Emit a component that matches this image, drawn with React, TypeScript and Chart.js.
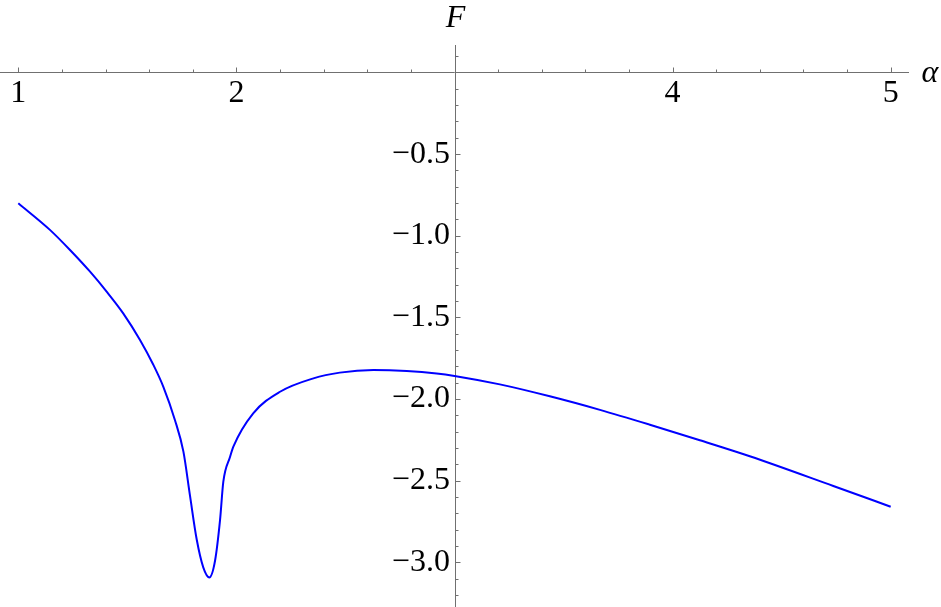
import React, { useEffect, useRef } from "react";
import { Chart, registerables } from "chart.js";

Chart.register(...registerables);

// Curve samples (alpha, F)
const alphaValues = [
  1.0, 1.145, 1.237, 1.329, 1.405, 1.481, 1.558, 1.619, 1.665, 1.718, 1.757,
  1.787, 1.818, 1.848, 1.876, 1.902, 1.925, 1.94, 1.971, 1.986, 2.077, 2.2,
  2.353, 2.474, 2.628, 2.781, 2.918, 3.0, 3.208, 3.437, 3.667, 3.896, 4.125,
  4.354, 4.737, 5.0,
];
const fValues = [
  -0.801, -0.964, -1.087, -1.22, -1.342, -1.475, -1.638, -1.79, -1.925,
  -2.128, -2.322, -2.59, -2.86, -3.03, -3.092, -2.99, -2.74, -2.506, -2.353,
  -2.291, -2.087, -1.955, -1.873, -1.838, -1.822, -1.828, -1.843, -1.858,
  -1.91, -1.983, -2.066, -2.157, -2.252, -2.35, -2.532, -2.659,
];

const xTickLabels = [1, 2, 4, 5];
const yTickLabels = [-0.5, -1.0, -1.5, -2.0, -2.5, -3.0];
const xAxisTitle = "α";
const yAxisTitle = "F";

const AXIS_COLOR = "#707070";
const FONT = "'Liberation Serif', 'Times New Roman', serif";

const axesPlugin = {
  id: "mmaAxes",
  beforeDatasetsDraw(chart: any) {
    const { ctx, chartArea, scales } = chart;
    const xs = scales.x;
    const ys = scales.y;
    const y0 = Math.round(ys.getPixelForValue(0)) + 0.5;
    const x0 = Math.round(xs.getPixelForValue(3)) + 0.5;
    ctx.save();
    ctx.strokeStyle = AXIS_COLOR;
    ctx.lineWidth = 1;
    ctx.beginPath();
    ctx.moveTo(chartArea.left, y0);
    ctx.lineTo(chartArea.right, y0);
    ctx.moveTo(x0, chartArea.top);
    ctx.lineTo(x0, chartArea.bottom);
    ctx.stroke();
    // x ticks (pointing up)
    ctx.beginPath();
    for (let i = 0; i <= 20; i++) {
      const v = 1 + i * 0.2;
      if (Math.abs(v - 3) < 1e-6) continue;
      const major = Math.abs(v - Math.round(v)) < 1e-6;
      const px = Math.round(xs.getPixelForValue(v)) + 0.5;
      ctx.moveTo(px, y0);
      ctx.lineTo(px, y0 - (major ? 5 : 3));
    }
    // y ticks (pointing right)
    for (let i = -32; i <= 1; i++) {
      if (i === 0) continue;
      const v = i / 10;
      const major = i % 5 === 0;
      const py = Math.round(ys.getPixelForValue(v)) + 0.5;
      if (py < chartArea.top || py > chartArea.bottom) continue;
      ctx.moveTo(x0, py);
      ctx.lineTo(x0 + (major ? 5 : 3), py);
    }
    ctx.stroke();
    // axis titles
    ctx.fillStyle = "#000";
    ctx.font = `italic 32px ${FONT}`;
    ctx.textAlign = "center";
    ctx.textBaseline = "middle";
    ctx.fillText(yAxisTitle, x0, 19);
    ctx.fillText(xAxisTitle, 930, y0 + 1);
    ctx.restore();
  },
};

export default function App() {
  const ref = useRef<HTMLCanvasElement>(null);
  useEffect(() => {
    if (!ref.current) return;
    const chart = new Chart(ref.current, {
      type: "line",
      data: {
        datasets: [
          {
            data: alphaValues.map((a, i) => ({ x: a, y: fValues[i] })),
            borderColor: "#0000ff",
            borderWidth: 2,
            pointRadius: 0,
            fill: false,
            cubicInterpolationMode: "monotone",
          },
        ],
      },
      options: {
        animation: false,
        responsive: false,
        events: [],
        layout: { padding: { left: 0, right: 32, top: 45, bottom: 0 } },
        plugins: { legend: { display: false }, tooltip: { enabled: false } },
        scales: {
          x: {
            type: "linear",
            position: { y: 0 },
            min: 0.916,
            max: 5.084,
            grid: { display: false, drawTicks: false },
            border: { display: false },
            afterBuildTicks: (s: any) => {
              s.ticks = xTickLabels.map((v) => ({ value: v }));
            },
            afterFit: (s: any) => {
              s.paddingLeft = 0; s.paddingRight = 0; s.paddingTop = 0; s.paddingBottom = 0;
            },
            ticks: {
              padding: 2,
              maxRotation: 0,
              autoSkip: false,
              color: "#000",
              font: { family: FONT, size: 32 },
              callback: (v: any) => String(v),
            },
          },
          y: {
            type: "linear",
            position: { x: 2.979 },
            min: -3.273,
            max: 0.168,
            grid: { display: false, drawTicks: false },
            border: { display: false },
            afterBuildTicks: (s: any) => {
              s.ticks = yTickLabels.map((v) => ({ value: v }));
            },
            afterFit: (s: any) => {
              s.paddingLeft = 0; s.paddingRight = 0; s.paddingTop = 0; s.paddingBottom = 0;
            },
            ticks: {
              autoSkip: false,
              color: "#000",
              font: { family: FONT, size: 32 },
              callback: (v: any) =>
                (v < 0 ? "\u2212" : "") + Math.abs(Number(v)).toFixed(1),
            },
          },
        },
      },
      plugins: [axesPlugin],
    } as any);
    return () => chart.destroy();
  }, []);
  return (
    <div style={{ position: "absolute", left: 0, top: 0, width: 941, height: 607, background: "#fff" }}>
      <canvas ref={ref} width={941} height={607} style={{ display: "block" }} />
    </div>
  );
}
